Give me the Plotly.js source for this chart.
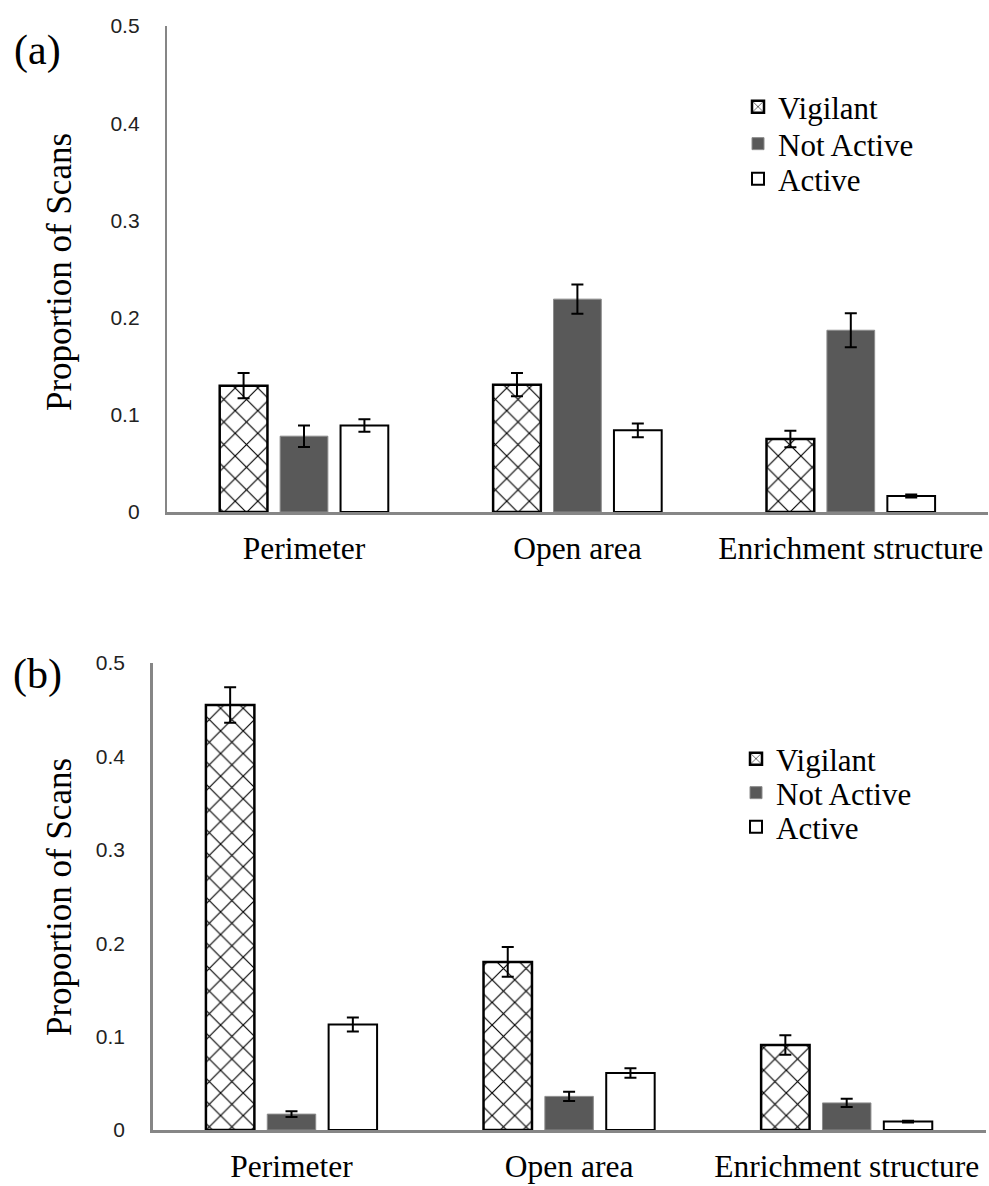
<!DOCTYPE html>
<html>
<head>
<meta charset="utf-8">
<script src="https://cdn.plot.ly/plotly-3.0.1.min.js"></script>
<style>html,body{margin:0;padding:0;background:#fff;}#chart{width:989px;height:1186px;}</style>
</head>
<body>
<div id="chart"></div>
<script>
// ---- data ----
const categories = ["Perimeter", "Open area", "Enrichment structure"];
const seriesNames = ["Vigilant", "Not Active", "Active"];

// panel (a)
const vigilantA = [0.130, 0.131, 0.075];
const vigilantAErr = [0.013, 0.012, 0.0085];
const notActiveA = [0.078, 0.219, 0.187];
const notActiveAErr = [0.011, 0.015, 0.0175];
const activeA = [0.089, 0.084, 0.0165];
const activeAErr = [0.0065, 0.007, 0.0015];

// panel (b)
const vigilantB = [0.455, 0.180, 0.091];
const vigilantBErr = [0.019, 0.016, 0.0105];
const notActiveB = [0.017, 0.036, 0.029];
const notActiveBErr = [0.003, 0.005, 0.0045];
const activeB = [0.113, 0.061, 0.009];
const activeBErr = [0.0075, 0.005, 0.001];

const yTickVals = [0, 0.1, 0.2, 0.3, 0.4, 0.5];
const yTickText = ["0", "0.1", "0.2", "0.3", "0.4", "0.5"];
const yTitle = "Proportion of Scans";
const panelLabels = ["(a)", "(b)"];

// ---- styles ----
const serif = "Liberation Serif";
const sans = "Liberation Sans";
const errStyle = {type: "data", color: "black", thickness: 2, width: 6};

function mk(name, y, err, kind, xa, ya, leg) {
  const t = {
    type: "bar", name: name, x: categories, y: y,
    xaxis: xa, yaxis: ya, legend: leg, showlegend: true,
    error_y: Object.assign({array: err}, errStyle),
    hoverinfo: "skip"
  };
  if (kind === 0) {
    t.marker = {color: "white", line: {color: "black", width: 2.5},
      pattern: {shape: "x", size: 16, solidity: 0.14, fgcolor: "black", fgopacity: 1,
        bgcolor: "white", fillmode: "overlay"}};
  } else if (kind === 1) {
    t.marker = {color: "#595959", line: {color: "#8c8c8c", width: 1}};
  } else {
    t.marker = {color: "white", line: {color: "black", width: 2}};
  }
  return t;
}

const data = [
  mk(seriesNames[0], vigilantA, vigilantAErr, 0, "x", "y", "legend"),
  mk(seriesNames[1], notActiveA, notActiveAErr, 1, "x", "y", "legend2"),
  mk(seriesNames[2], activeA, activeAErr, 2, "x", "y", "legend3"),
  mk(seriesNames[0], vigilantB, vigilantBErr, 0, "x2", "y2", "legend4"),
  mk(seriesNames[1], notActiveB, notActiveBErr, 1, "x2", "y2", "legend5"),
  mk(seriesNames[2], activeB, activeBErr, 2, "x2", "y2", "legend6")
];

const W = 989, H = 1186;
function xax(d, anchor) {
  return {domain: d, anchor: anchor, type: "category", range: [-0.5, 2.5],
    showline: true, linecolor: "#868686", linewidth: 2.5, showgrid: false, zeroline: false,
    ticks: "", tickfont: {family: serif, size: 31.5, color: "black"}, ticklabelstandoff: 7,
    fixedrange: true};
}
function yax(d, anchor) {
  return {domain: d, anchor: anchor, range: [0, 0.5], tickvals: yTickVals, ticktext: yTickText,
    showline: true, linecolor: "#868686", linewidth: 2.5, showgrid: false, zeroline: false,
    ticks: "", tickfont: {family: sans, size: 21, color: "#222"},
    ticklabelstandoff: 21, fixedrange: true};
}
function leg(xpx, ypx) {
  return {x: xpx / W, y: 1 - ypx / H, xanchor: "left", yanchor: "middle",
    font: {family: serif, size: 31, color: "black"}, bgcolor: "rgba(0,0,0,0)", borderwidth: 0};
}

const layout = {
  width: W, height: H,
  margin: {l: 0, r: 0, t: 0, b: 0},
  paper_bgcolor: "white", plot_bgcolor: "white",
  barmode: "group", bargap: 0.337, bargroupgap: 0.21,
  font: {family: serif},
  xaxis: xax([167.3 / W, 987.5 / W], "y"),
  yaxis: yax([1 - 512 / H, 1 - 26 / H], "x"),
  xaxis2: xax([152.7 / W, 985.5 / W], "y2"),
  yaxis2: yax([1 - 1130 / H, 1 - 663 / H], "x2"),
  legend: leg(738, 107),
  legend2: leg(738, 144),
  legend3: leg(738, 179),
  legend4: leg(736, 759),
  legend5: leg(736, 793),
  legend6: leg(736, 827),
  annotations: [
    {text: yTitle, xref: "paper", yref: "paper", x: 60 / W, y: 1 - 272 / H, textangle: -90,
      showarrow: false, font: {family: serif, size: 35, color: "black"}, xanchor: "center", yanchor: "middle"},
    {text: yTitle, xref: "paper", yref: "paper", x: 60 / W, y: 1 - 897 / H, textangle: -90,
      showarrow: false, font: {family: serif, size: 35, color: "black"}, xanchor: "center", yanchor: "middle"},
    {text: panelLabels[0], xref: "paper", yref: "paper", x: 37 / W, y: 1 - 50 / H,
      showarrow: false, font: {family: serif, size: 42, color: "black"}, xanchor: "center", yanchor: "middle"},
    {text: panelLabels[1], xref: "paper", yref: "paper", x: 37 / W, y: 1 - 674 / H,
      showarrow: false, font: {family: serif, size: 42, color: "black"}, xanchor: "center", yanchor: "middle"}
  ]
};

Plotly.newPlot("chart", data, layout, {staticPlot: true, displayModeBar: false});
</script>
</body>
</html>
